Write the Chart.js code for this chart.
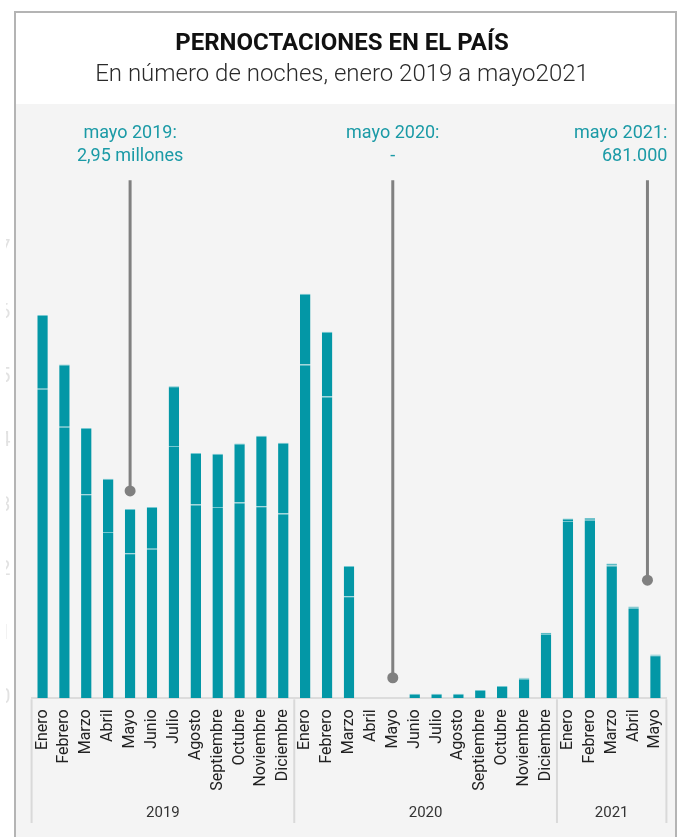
<!DOCTYPE html>
<html>
<head>
<meta charset="utf-8">
<script src="https://cdn.jsdelivr.net/npm/chart.js@4.4.1/dist/chart.umd.min.js"></script>
<style>
  html, body { margin: 0; padding: 0; background: #ffffff; }
  #wrap { position: absolute; left: 0; top: 0; width: 678px; height: 837px; }
</style>
</head>
<body>
<div id="wrap"><canvas id="c" width="678" height="837"></canvas></div>
<script>
// ---- Data (millions of nights) ----
const months = ['Enero','Febrero','Marzo','Abril','Mayo','Junio','Julio','Agosto','Septiembre','Octubre','Noviembre','Diciembre',
                'Enero','Febrero','Marzo','Abril','Mayo','Junio','Julio','Agosto','Septiembre','Octubre','Noviembre','Diciembre',
                'Enero','Febrero','Marzo','Abril','Mayo'];
const yearLabels = ['2019','2020','2021'];
const yearCounts = [12, 12, 5];
// residentes (lower segment)
const residentes = [4.82, 4.23, 3.18, 2.59, 2.26, 2.33, 3.93, 3.02, 2.98, 3.05, 2.99, 2.88,
                    5.20, 4.70, 1.59, 0, 0, 0.07, 0.07, 0.07, 0.13, 0.19, 0.31, 1.00,
                    2.76, 2.78, 2.07, 1.41, 0.67];
// no residentes (upper segment)
const noResidentes = [1.15, 0.97, 1.03, 0.83, 0.69, 0.65, 0.93, 0.80, 0.83, 0.92, 1.10, 1.10,
                      1.10, 1.01, 0.47, 0, 0, 0, 0, 0, 0, 0, 0.01, 0.02,
                      0.04, 0.03, 0.03, 0.02, 0.011];
const yTicks = [0, 1, 2, 3, 4, 5, 6, 7];
// callouts: category index, value where the pointer dot sits, text lines
const calloutIndex = [4, 16, 28];
const calloutDot = [3.23, 0.32, 1.84];
const calloutText = [['mayo 2019:', '2,95 millones'], ['mayo 2020:', '-'], ['mayo 2021:', '681.000']];

// ---- Styles ----
const TEAL = '#0397a6';
const EDGE = 'rgba(95,192,202,0.85)';
const FONT = "Roboto, 'Noto Sans', sans-serif";
const calloutAlign = ['center', 'center', 'right'];
const calloutXOffset = [0, 0, -8];
const calloutLineTop = 8.07;

const framePlugin = {
  id: 'frame',
  beforeDraw(chart) {
    const ctx = chart.ctx, a = chart.chartArea;
    ctx.save();
    ctx.fillStyle = '#ffffff';
    ctx.fillRect(0, 0, chart.width, chart.height);
    ctx.fillStyle = '#f4f4f4';
    ctx.fillRect(15, a.top, 661, chart.height - a.top);
    ctx.strokeStyle = '#b4b4b4';
    ctx.lineWidth = 2;
    ctx.beginPath();
    ctx.moveTo(15, chart.height);
    ctx.lineTo(15, 12);
    ctx.lineTo(676, 12);
    ctx.lineTo(676, chart.height);
    ctx.stroke();
    ctx.restore();
  },
  afterDraw(chart) {
    const ctx = chart.ctx, a = chart.chartArea, xs = chart.scales.x;
    const half = (xs.getPixelForValue(1) - xs.getPixelForValue(0)) / 2;
    ctx.save();
    let start = 0;
    const bounds = [];
    for (let g = 0; g < yearCounts.length; g++) {
      const x0 = xs.getPixelForValue(start) - half;
      const x1 = xs.getPixelForValue(start + yearCounts[g] - 1) + half;
      bounds.push(x0);
      if (g === yearCounts.length - 1) bounds.push(x1);
      ctx.fillStyle = '#333333';
      ctx.font = '15px ' + FONT;
      ctx.textAlign = 'center';
      ctx.textBaseline = 'middle';
      ctx.fillText(yearLabels[g], (x0 + x1) / 2, 813);
      start += yearCounts[g];
    }
    ctx.strokeStyle = '#d9d9d9';
    ctx.lineWidth = 2;
    bounds.forEach(x => {
      ctx.beginPath();
      ctx.moveTo(x, a.bottom + 1);
      ctx.lineTo(x, 823);
      ctx.stroke();
    });
    ctx.restore();
  },
  afterDatasetsDraw(chart) {
    const ctx = chart.ctx, a = chart.chartArea, xs = chart.scales.x, ys = chart.scales.y;
    ctx.save();
    for (let i = 0; i < calloutIndex.length; i++) {
      const x = xs.getPixelForValue(calloutIndex[i]) + calloutXOffset[i];
      const yTop = ys.getPixelForValue(calloutLineTop);
      const yDot = ys.getPixelForValue(calloutDot[i]);
      ctx.strokeStyle = '#808080';
      ctx.lineWidth = 3;
      ctx.beginPath();
      ctx.moveTo(x, yTop);
      ctx.lineTo(x, yDot);
      ctx.stroke();
      ctx.fillStyle = '#808080';
      ctx.beginPath();
      ctx.arc(x, yDot, 5.5, 0, Math.PI * 2);
      ctx.fill();
      ctx.fillStyle = '#1a9aa6';
      ctx.font = '18px ' + FONT;
      ctx.textBaseline = 'alphabetic';
      ctx.textAlign = calloutAlign[i];
      const tx = calloutAlign[i] === 'right' ? a.right + 1 : x;
      ctx.fillText(calloutText[i][0], tx, yTop - 42);
      ctx.fillText(calloutText[i][1], tx, yTop - 19);
    }
    ctx.restore();
  }
};

new Chart(document.getElementById('c'), {
  type: 'bar',
  data: {
    labels: months,
    datasets: [
      { label: 'Residentes', data: residentes, backgroundColor: TEAL, borderColor: EDGE,
        borderWidth: { top: 1, left: 0, right: 0, bottom: 0 }, borderSkipped: false,
        barPercentage: 0.48, categoryPercentage: 1 },
      { label: 'No residentes', data: noResidentes, backgroundColor: TEAL, borderColor: EDGE,
        borderWidth: { top: 1, left: 0, right: 0, bottom: 0 }, borderSkipped: false,
        barPercentage: 0.48, categoryPercentage: 1 }
    ]
  },
  options: {
    responsive: false,
    devicePixelRatio: 1,
    animation: false,
    layout: { padding: { left: 6, right: 0, top: 0, bottom: 0 } },
    plugins: {
      legend: { display: false },
      tooltip: { enabled: false },
      title: {
        display: true,
        text: 'PERNOCTACIONES EN EL PAÍS',
        color: '#111111',
        font: { family: FONT, size: 24, weight: 'bold', lineHeight: 1.2 },
        padding: { top: 29.6, bottom: 1.7 }
      },
      subtitle: {
        display: true,
        text: 'En número de noches, enero 2019 a mayo2021',
        color: '#2a2a2a',
        font: { family: FONT, size: 24, weight: 300, lineHeight: 1.2 },
        padding: { top: 0, bottom: 15.1 }
      }
    },
    scales: {
      x: {
        stacked: true,
        grid: { display: false, drawTicks: false },
        border: { display: true, color: '#dcdcdc', width: 2 },
        ticks: { autoSkip: false, maxRotation: 90, minRotation: 90, padding: 11,
                 color: '#222222', font: { family: FONT, size: 16 } },
        afterFit(s) { s.height = 837 - 698.3; s.paddingLeft = 0; s.paddingRight = 0; }
      },
      y: {
        stacked: true,
        min: 0,
        max: 9.257,
        grid: { display: false, drawTicks: false },
        border: { display: false },
        ticks: { padding: 21, color: '#e2e2e2', font: { family: FONT, size: 20 } },
        afterBuildTicks(s) { s.ticks = yTicks.map(v => ({ value: v })); },
        afterFit(s) { s.width = 25.6; }
      },
      y2: {
        position: 'right',
        display: true,
        grid: { display: false, drawTicks: false },
        border: { display: false },
        ticks: { display: false },
        afterFit(s) { s.width = 11.6; }
      }
    }
  },
  plugins: [framePlugin]
});
</script>
</body>
</html>
